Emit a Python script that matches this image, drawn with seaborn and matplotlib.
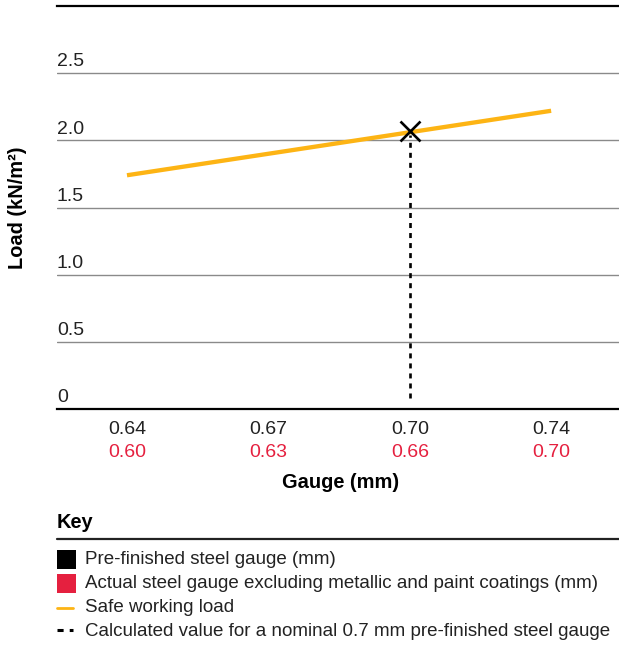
import matplotlib
matplotlib.use("Agg")
import matplotlib.pyplot as plt
import seaborn as sns
import pandas as pd
from matplotlib.patches import Rectangle
from matplotlib.lines import Line2D

# ---- data ----
gauge_labels = ["0.64", "0.67", "0.70", "0.74"]
actual_labels = ["0.60", "0.63", "0.66", "0.70"]
safe_load = [1.74, 1.90, 2.06, 2.22]
calc_gauge_index = 2
calc_load = 2.07
y_ticks = [0, 0.5, 1.0, 1.5, 2.0, 2.5]
y_tick_labels = ["0", "0.5", "1.0", "1.5", "2.0", "2.5"]
key_labels = [
    "Pre-finished steel gauge (mm)",
    "Actual steel gauge excluding metallic and paint coatings (mm)",
    "Safe working load",
    "Calculated value for a nominal 0.7 mm pre-finished steel gauge",
]

ORANGE = "#fdb414"
RED = "#e5203f"
GRID = "#8a8a8a"
TXT = "#222222"

sns.set_theme(style="white")
plt.rcParams["font.family"] = ["Liberation Sans", "DejaVu Sans"]

W, H = 619, 649
fig = plt.figure(figsize=(W / 100, H / 100), dpi=100)

def fx(px):
    return px / W

def fy(py):
    return 1 - py / H

ax = fig.add_axes([fx(57), fy(409), fx(619) - fx(57), fy(6) - fy(409)])

df = pd.DataFrame({"pos": range(len(gauge_labels)), "load": safe_load})
sns.lineplot(data=df, x="pos", y="load", ax=ax, color=ORANGE, linewidth=3.1,
             solid_capstyle="butt", zorder=3)

# dashed vertical for calculated value
ax.plot([calc_gauge_index, calc_gauge_index], [0.08, calc_load - 0.03],
        color="black", linewidth=1.9, linestyle=(0, (1.9, 1.9)), zorder=2)
ax.plot([calc_gauge_index], [calc_load], marker="x", markersize=15,
        markeredgewidth=1.9, color="black", linestyle="none", zorder=4)

ax.set_xlim(-0.495, 3.48)
ax.set_ylim(0, 3.0)
ax.set_yticks(y_ticks)
ax.set_yticklabels([])
ax.set_xticks([])
ax.set_xlabel("")
ax.set_ylabel("")
ax.tick_params(length=0)

for v in y_ticks[1:]:
    ax.axhline(v, color=GRID, linewidth=1.0, zorder=1)

for s in ["left", "right"]:
    ax.spines[s].set_visible(False)
ax.spines["top"].set_color("black")
ax.spines["top"].set_linewidth(1.6)
ax.spines["bottom"].set_color("black")
ax.spines["bottom"].set_linewidth(1.6)

for v, lab in zip(y_ticks, y_tick_labels):
    ax.annotate(lab, xy=(0, v), xycoords=("axes fraction", "data"),
                xytext=(0, 2.0), textcoords="offset points",
                ha="left", va="bottom", fontsize=14, color=TXT)

for i, (g, a) in enumerate(zip(gauge_labels, actual_labels)):
    ax.annotate(g, xy=(i, 0), xycoords=("data", "axes fraction"),
                xytext=(0, -14.5), textcoords="offset points",
                ha="center", va="center", fontsize=14, color=TXT)
    ax.annotate(a, xy=(i, 0), xycoords=("data", "axes fraction"),
                xytext=(0, -31.5), textcoords="offset points",
                ha="center", va="center", fontsize=14, color=RED)

fig.text(fx(341), fy(482), "Gauge (mm)", ha="center", va="center",
         fontsize=14.4, fontweight="bold", color="black")
fig.text(fx(18), fy(208), "Load (kN/m²)", ha="center", va="center",
         rotation=90, fontsize=14.4, fontweight="bold", color="black")

# ---- key ----
fig.text(fx(57), fy(523), "Key", ha="left", va="center", fontsize=14.4,
         fontweight="bold", color="black")
fig.add_artist(Line2D([fx(57), fx(619)], [fy(539), fy(539)], color=TXT,
                      linewidth=1.6, transform=fig.transFigure))

row_y = [560, 584, 608, 632]
fig.add_artist(Rectangle((fx(57), fy(569)), fx(19), fy(550) - fy(569),
                         facecolor="black", edgecolor="none",
                         transform=fig.transFigure))
fig.add_artist(Rectangle((fx(57), fy(593)), fx(19), fy(574) - fy(593),
                         facecolor=RED, edgecolor="none",
                         transform=fig.transFigure))
fig.add_artist(Line2D([fx(57), fx(73)], [fy(608), fy(608)], color=ORANGE,
                      linewidth=2.0, transform=fig.transFigure))
fig.add_artist(Line2D([fx(57), fx(73)], [fy(630), fy(630)], color="black",
                      linewidth=2.2, linestyle=(0, (2.0, 2.0)),
                      transform=fig.transFigure))

for yy, lab in zip(row_y, key_labels):
    fig.text(fx(85), fy(yy), lab, ha="left", va="center", fontsize=13.5,
             color=TXT)

fig.savefig("out.png", dpi=100)
